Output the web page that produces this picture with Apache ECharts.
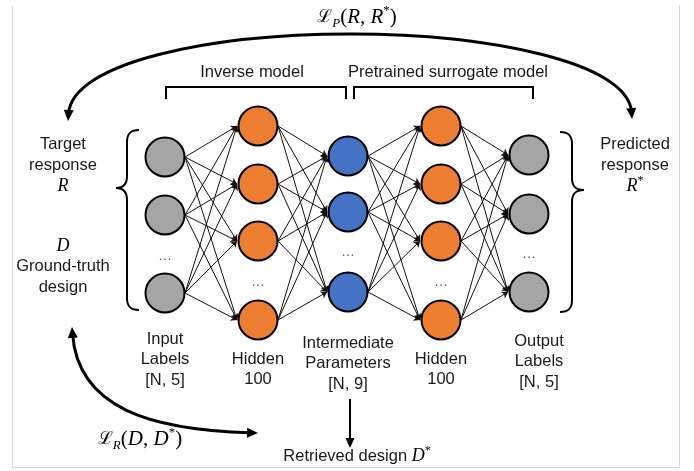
<!DOCTYPE html>
<html><head><meta charset="utf-8">
<script src="https://cdn.jsdelivr.net/npm/echarts@6/dist/echarts.min.js"></script>
<style>html,body{margin:0;padding:0;background:#fff}#c{width:694px;height:471px}</style>
</head><body><div id="c"></div>
<script>
// ---- diagram data ----
const layerNames = ['Input', 'Hidden', 'Intermediate', 'Hidden', 'Output'];
const layerX = [165, 258, 348, 441, 529];
const layerColors = ['#A5A5A5', '#ED7D31', '#4472C4', '#ED7D31', '#A5A5A5'];
const layerNodeY = [[157, 215, 293], [126, 184, 241, 320], [156, 212, 292], [126, 184, 241, 320], [155, 214, 292]];
const layerDotsY = [256, 282, 252, 282, 254];
const layerCaptions = [['Input', 'Labels', '[N, 5]'], ['Hidden', '100'], ['Intermediate', 'Parameters', '[N, 9]'], ['Hidden', '100'], ['Output', 'Labels', '[N, 5]']];
const captionX = [165, 258, 348, 441, 539];
const captionTopY = [339, 359, 343, 359, 341];
const sectionTitles = ['Inverse model', 'Pretrained surrogate model'];
const leftLabels = ['Target', 'response'];
const leftLabels2 = ['Ground-truth', 'design'];
const rightLabels = ['Predicted', 'response'];
const bottomLabel = 'Retrieved design ';

const TXT = '#1a1a1a';
const SANS = 'Liberation Sans, Arial, sans-serif';
const SERIF = 'Liberation Serif, Times New Roman, serif';
const FS = 16.5;
const NODE_R = 20;

// nodes
const nodeData = [];
layerNodeY.forEach((ys, l) => ys.forEach(y => nodeData.push({ value: [layerX[l], y], itemStyle: { color: layerColors[l] } })));
// edges (fully connected between consecutive layers)
const edgeData = [];
for (let l = 0; l < layerX.length - 1; l++) {
  for (const y1 of layerNodeY[l]) for (const y2 of layerNodeY[l + 1]) {
    edgeData.push({ coords: [[layerX[l] + NODE_R, y1], [layerX[l + 1] - NODE_R - 1, y2]] });
  }
}

const chart = echarts.init(document.getElementById('c'), null, { renderer: 'canvas' });

function txt(x, y, text, extra) {
  return { type: 'text', x: x, y: y, z: 10, style: Object.assign({ text: text, fill: TXT, fontFamily: SANS, fontSize: FS, align: 'center', verticalAlign: 'middle' }, extra || {}) };
}
function arrowHead(tip, from, len, hw) {
  const dx = tip[0] - from[0], dy = tip[1] - from[1];
  const d = Math.hypot(dx, dy), ux = dx / d, uy = dy / d;
  const bx = tip[0] - ux * len, by = tip[1] - uy * len;
  return { type: 'polygon', z: 6, shape: { points: [tip, [bx - uy * hw, by + ux * hw], [bx + uy * hw, by - ux * hw]] }, style: { fill: '#000' } };
}
function back(tip, from, k) {
  const dx = tip[0] - from[0], dy = tip[1] - from[1];
  const d = Math.hypot(dx, dy);
  return [tip[0] - dx / d * k, tip[1] - dy / d * k];
}
const STROKE2 = { stroke: '#000', lineWidth: 2, fill: null };
function bez(p0, c1, c2, p1, st) {
  return { type: 'bezierCurve', z: 5, shape: { x1: p0[0], y1: p0[1], cpx1: c1[0], cpy1: c1[1], cpx2: c2[0], cpy2: c2[1], x2: p1[0], y2: p1[1] }, style: Object.assign({}, st) };
}
// curly brace: xe = tip-end x, xv = vertical x, xp = point x
function brace(xe, xv, xp, y0, ym, y1) {
  const s = Math.sign(xp - xv);
  const r = 12;
  const els = [];
  els.push(bez([xe, y0], [xv + (xe - xv) * 0.25, y0], [xv, y0 + 4], [xv, y0 + r], STROKE2));
  els.push({ type: 'line', z: 5, shape: { x1: xv, y1: y0 + r, x2: xv, y2: ym - r }, style: Object.assign({}, STROKE2) });
  els.push(bez([xv, ym - r], [xv, ym - 4], [xv + s * 3, ym], [xp, ym], STROKE2));
  els.push(bez([xp, ym], [xv + s * 3, ym], [xv, ym + 4], [xv, ym + r], STROKE2));
  els.push({ type: 'line', z: 5, shape: { x1: xv, y1: ym + r, x2: xv, y2: y1 - r }, style: Object.assign({}, STROKE2) });
  els.push(bez([xv, y1 - r], [xv, y1 - 4], [xv + (xe - xv) * 0.25, y1], [xe, y1], STROKE2));
  return els;
}
const mathRich = {
  L: { fontFamily: 'DejaVu Serif', fontSize: 18, fill: '#000', color: '#000', lineHeight: 26 },
  s: { fontFamily: SERIF, fontStyle: 'italic', fontSize: 13, fill: '#000', color: '#000', lineHeight: 12, verticalAlign: 'bottom' },
  n: { fontFamily: SERIF, fontSize: 21, fill: '#000', color: '#000', lineHeight: 26 },
  i: { fontFamily: SERIF, fontStyle: 'italic', fontSize: 21, fill: '#000', color: '#000', lineHeight: 26 },
  p: { fontFamily: SERIF, fontSize: 13, fill: '#000', color: '#000', lineHeight: 14, verticalAlign: 'top' },
  t: { fontFamily: SANS, fontSize: FS, fill: TXT, color: TXT, lineHeight: 22 },
  d: { fontFamily: SERIF, fontStyle: 'italic', fontSize: 18, fill: '#000', color: '#000', lineHeight: 22 },
  q: { fontFamily: SERIF, fontSize: 12, fill: '#000', color: '#000', lineHeight: 13, verticalAlign: 'top' }
};

const g = [];
// frame
g.push({ type: 'polyline', z: 1, shape: { points: [[12.5, 6], [12.5, 467.5], [679.5, 467.5], [679.5, 6]] }, style: { stroke: '#d6d6d6', lineWidth: 1, fill: null } });

// top arc  L_P(R,R*)
const tl = [68, 121], tr = [632, 119];
const l1 = [72, 62], r2 = [628, 62];
const ls = back(tl, l1, 7), rs = back(tr, r2, 7);
const ST3 = { stroke: '#000', lineWidth: 3, fill: null };
g.push(bez(ls, l1, [212, 34], [350, 34], ST3));
g.push(bez([350, 34], [488, 34], r2, rs, ST3));
g.push(arrowHead(tl, l1, 11, 5));
g.push(arrowHead(tr, r2, 11, 5));
g.push({ type: 'text', x: 357, y: 17, z: 10, style: { text: '{L|ℒ}{s|P}{n|(}{i|R}{n|, }{i|R}{p|*}{n|)}', align: 'center', verticalAlign: 'middle', rich: mathRich } });

// section titles and brackets
g.push(txt(252, 72, sectionTitles[0]));
g.push(txt(448, 72, sectionTitles[1]));
g.push({ type: 'polyline', z: 5, shape: { points: [[166, 99], [166, 87], [346, 87], [346, 99]] }, style: Object.assign({}, STROKE2) });
g.push({ type: 'polyline', z: 5, shape: { points: [[354, 99], [354, 87], [533, 87], [533, 99]] }, style: Object.assign({}, STROKE2) });

// braces
brace(139, 127, 116, 130, 188, 310).forEach(e => g.push(e));
brace(560, 572, 584, 132, 190, 312).forEach(e => g.push(e));

// left labels
g.push(txt(63, 144, leftLabels[0]));
g.push(txt(63, 165, leftLabels[1]));
g.push({ type: 'text', x: 63, y: 186, z: 10, style: { text: 'R', fill: '#000', fontFamily: SERIF, fontStyle: 'italic', fontSize: 18, align: 'center', verticalAlign: 'middle' } });
g.push({ type: 'text', x: 63, y: 246, z: 10, style: { text: 'D', fill: '#000', fontFamily: SERIF, fontStyle: 'italic', fontSize: 18, align: 'center', verticalAlign: 'middle' } });
g.push(txt(63, 266, leftLabels2[0]));
g.push(txt(63, 287, leftLabels2[1]));
// right labels
g.push(txt(635, 144, rightLabels[0]));
g.push(txt(635, 165, rightLabels[1]));
g.push({ type: 'text', x: 635, y: 186, z: 10, style: { text: '{d|R}{q|*}', align: 'center', verticalAlign: 'middle', rich: mathRich } });

// dots
layerDotsY.forEach((y, l) => g.push(txt(layerX[l], y, '…', { fontSize: 14, fill: '#555' })));
// captions
layerCaptions.forEach((lines, l) => lines.forEach((s, k) => g.push(txt(captionX[l], captionTopY[l] + k * 20.5, s))));

// retrieved design arrow
g.push({ type: 'line', z: 5, shape: { x1: 350, y1: 399, x2: 350, y2: 440 }, style: Object.assign({}, STROKE2) });
g.push(arrowHead([350, 448], [350, 399], 10, 4.5));
g.push({ type: 'text', x: 357, y: 456, z: 10, style: { text: '{t|' + bottomLabel + '}{d|D}{q|*}', align: 'center', verticalAlign: 'middle', rich: mathRich } });

// bottom-left arc L_R(D,D*)
const bu = [72, 327], br = [258, 433];
const bc1 = [78, 408], bc2 = [150, 430];
const bus = back(bu, bc1, 7), brs = back(br, bc2, 7);
g.push(bez(bus, bc1, bc2, brs, ST3));
g.push(arrowHead(bu, bc1, 11, 5));
g.push(arrowHead(br, bc2, 11, 5));
g.push({ type: 'text', x: 140, y: 439, z: 10, style: { text: '{L|ℒ}{s|R}{n|(}{i|D}{n|, }{i|D}{p|*}{n|)}', align: 'center', verticalAlign: 'middle', rich: mathRich } });

chart.setOption({
  animation: false,
  backgroundColor: '#fff',
  grid: { left: 0, right: 0, top: 0, bottom: 0 },
  xAxis: { type: 'value', min: 0, max: 694, show: false },
  yAxis: { type: 'value', min: 0, max: 471, inverse: true, show: false },
  series: [
    {
      type: 'lines', coordinateSystem: 'cartesian2d', z: 2,
      symbol: ['none', 'arrow'], symbolSize: 6,
      lineStyle: { color: '#111', width: 1, opacity: 1 },
      data: edgeData
    },
    {
      type: 'scatter', z: 3, symbol: 'circle', symbolSize: 39,
      itemStyle: { borderColor: '#000', borderWidth: 2, opacity: 1 },
      data: nodeData
    }
  ],
  graphic: g
});
</script></body></html>
